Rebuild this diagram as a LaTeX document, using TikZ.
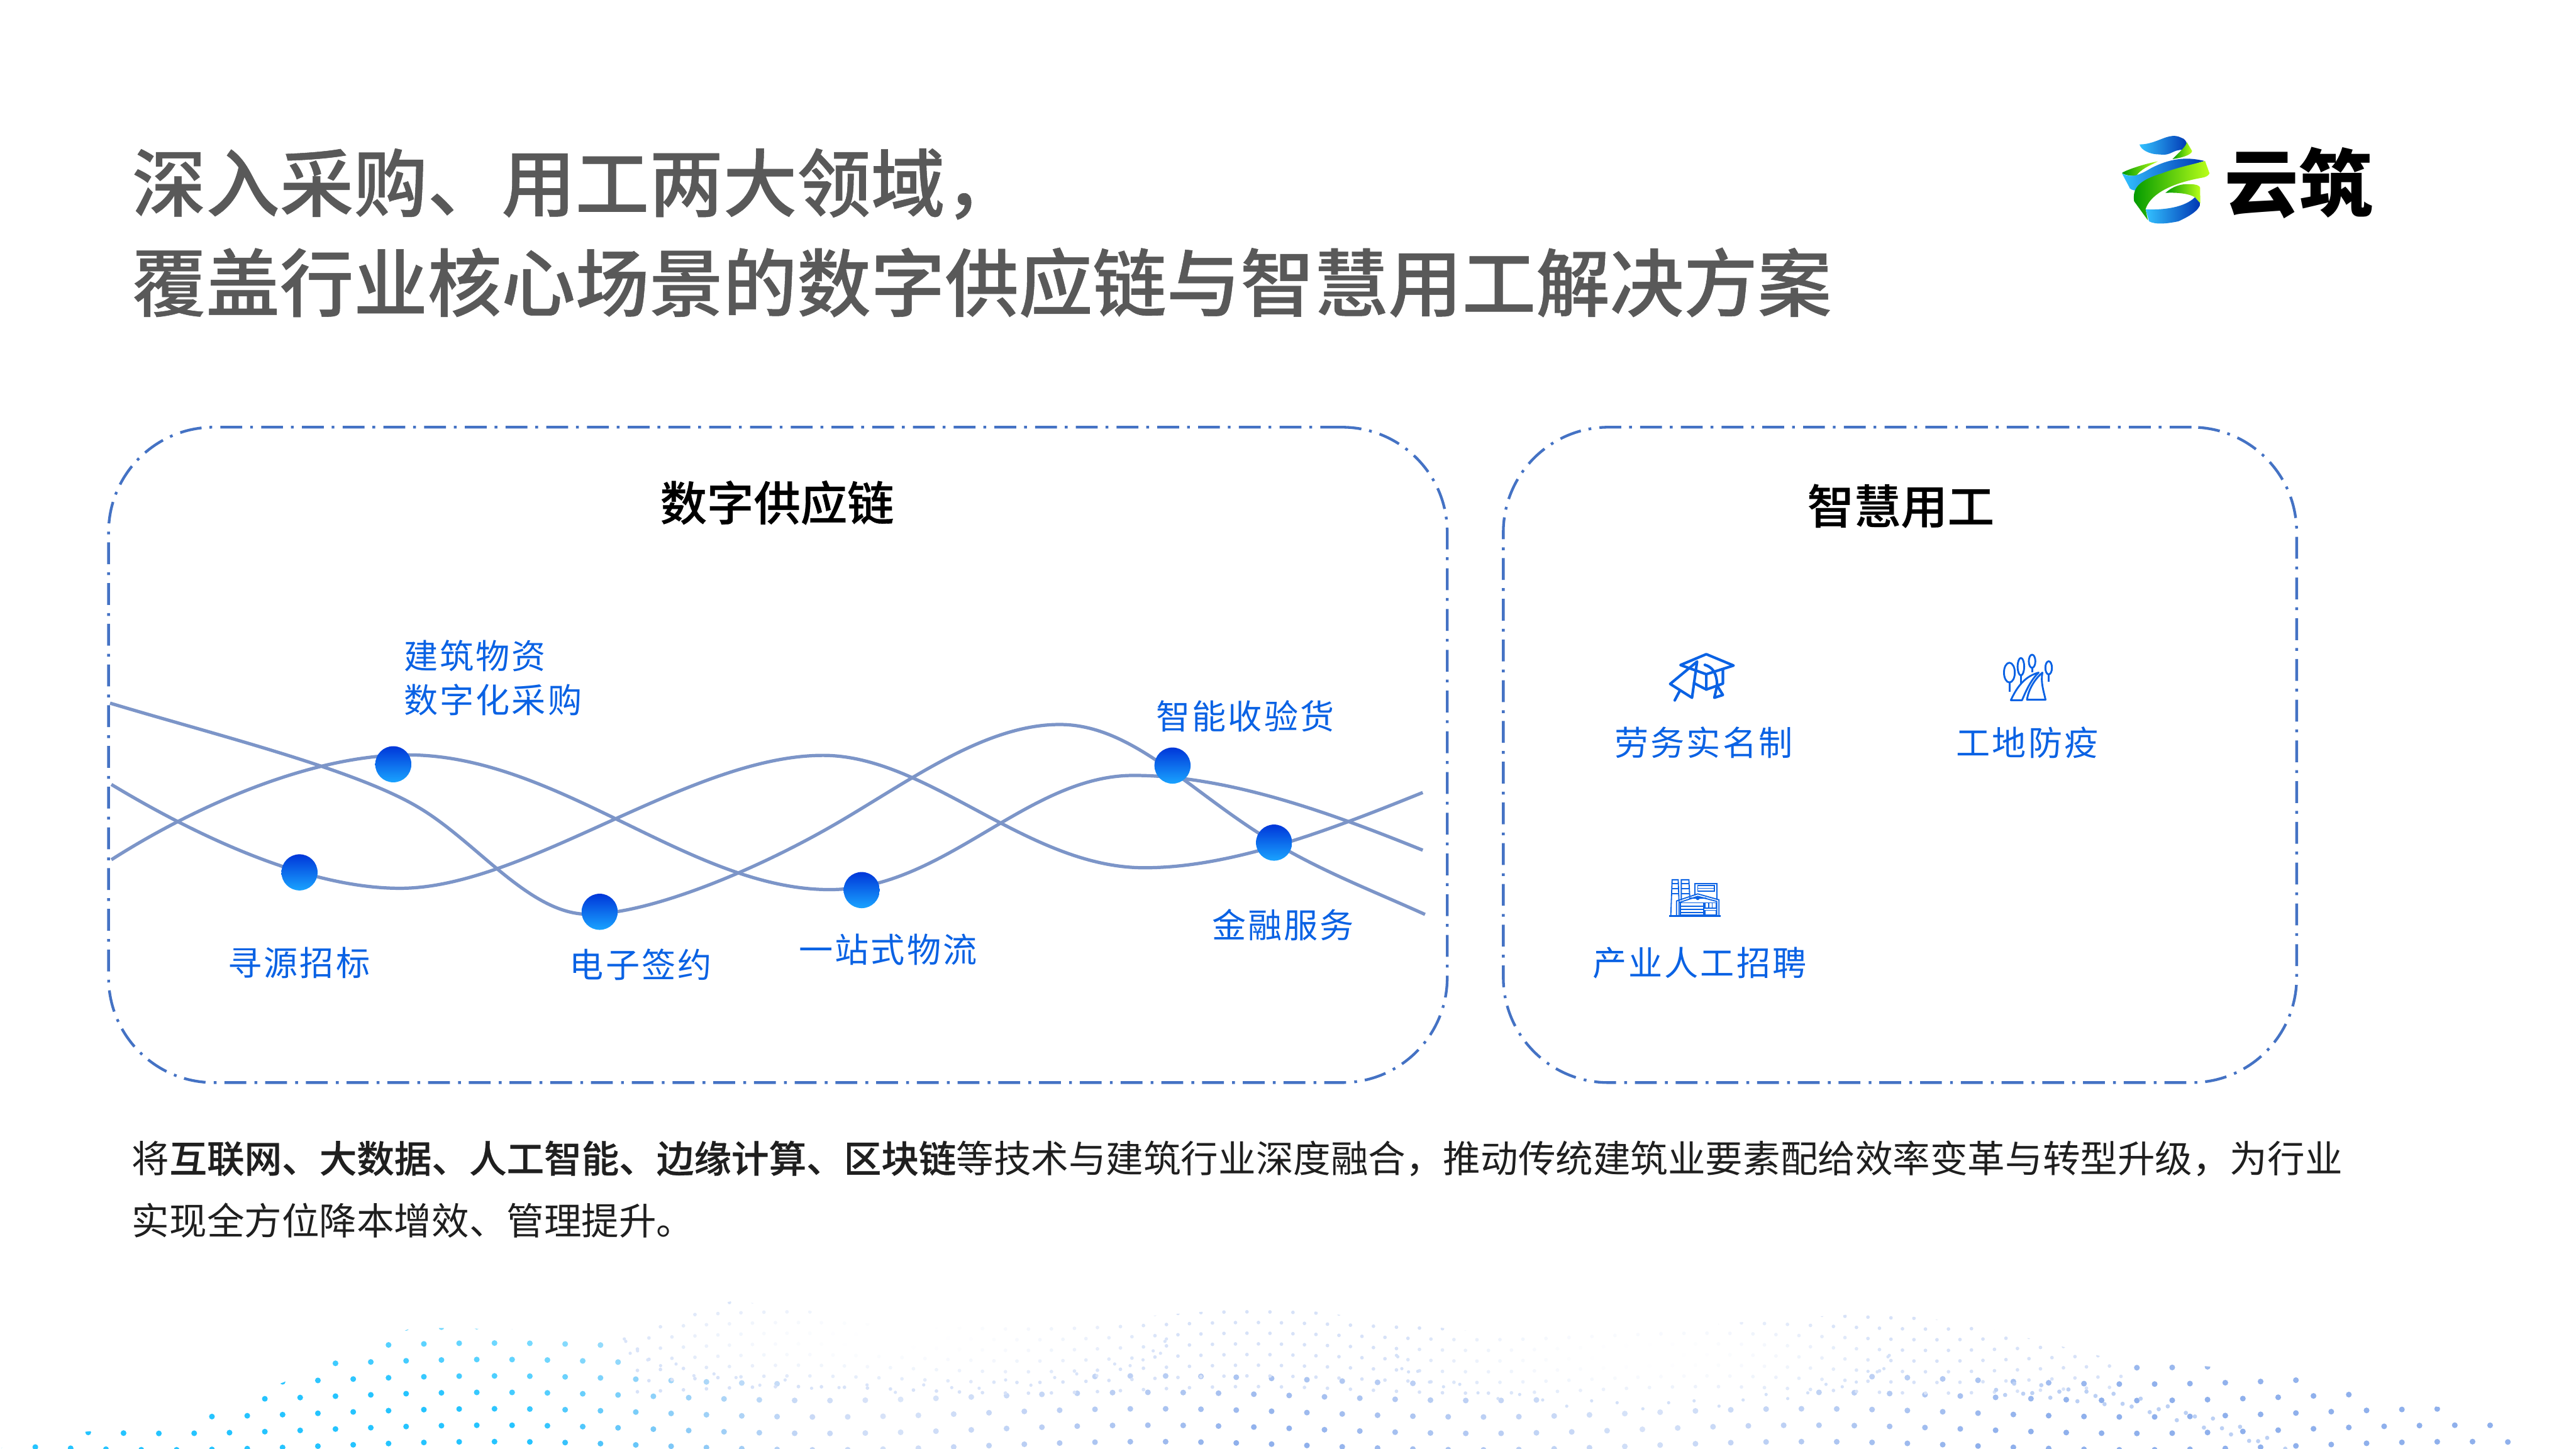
\documentclass[tikz,border=0pt]{standalone}
\usepackage{fontspec}
\setmainfont{Noto Sans CJK SC}[BoldFont={Noto Sans CJK SC Medium},BoldFeatures={FakeBold=.45}]
\newfontfamily\brandfont{Noto Sans CJK SC Black}
\newfontfamily\itemfont{Noto Sans CJK SC}[LetterSpace=5.7]
\definecolor{titlegray}{HTML}{595959}
\definecolor{panelblue}{HTML}{4472C4}
\definecolor{wavec}{HTML}{7C95C8}
\definecolor{labelblue}{HTML}{0A62E4}
\definecolor{dotleft}{HTML}{25C4FF}
\definecolor{dotright}{HTML}{8FB0EC}
\tikzset{
  panel/.style={draw=panelblue,line width=.033cm,rounded corners=1.28cm,inner sep=0,
    dash pattern=on .266cm off .1cm on .034cm off .096cm},
  headline/.style={anchor=west,inner sep=0,text=titlegray,font=\fontsize{25.6}{30}\selectfont\bfseries},
  paneltitle/.style={inner sep=0,font=\fontsize{16.2}{20}\selectfont\bfseries},
  itemlabel/.style={inner sep=0,text=labelblue,align=left,font=\itemfont\fontsize{11.8}{15.3}\selectfont},
  bodytext/.style={anchor=north west,inner sep=0,align=left,text=black!88,font=\fontsize{12.98}{21.6}\selectfont},
  wave/.style={draw=wavec,line width=.04cm,line join=round},
  dotmark/.style={circle,minimum size=.44cm,inner sep=0,shading=axis,shading angle=-45,
    bottom color=cyan!60!blue!90!white,middle color=labelblue,top color=blue!75!cyan!85!black},
  capline/.style={draw=labelblue,line width=.032cm,line join=round,line cap=round},
  treeline/.style={draw=labelblue,line width=.022cm,line join=round},
  plantline/.style={draw=labelblue,line width=.014cm},
  ribblue/.style={left color=cyan!70!blue!80!white,right color=blue!70!cyan!70!black},
  riblime/.style={left color=green!60!black,right color=yellow!70!green!90!white},
}
\begin{document}
\begin{tikzpicture}[x=.02cm,y=-.02cm]
\useasboundingbox (0,0) rectangle (1568,882);
\fill[white] (0,0) rectangle (1568,882);
\begin{scope}
\clip plot coordinates {(0,882) (9,876) (104,866) (134,857) (161,846) (186,836) (208,826) (231,815) (252,808) (350,810) (388,812) (411,802) (445,792) (480,795) (544,809) (640,806) (700,801) (776,795) (850,805) (927,814) (1000,810) (1080,803) (1145,799) (1200,806) (1281,826) (1347,832) (1400,838) (1450,850) (1525,864) (1530,882)} -- cycle;
\foreach \r in {0,...,8}{
  \foreach \c in {0,...,72}{
    \pgfmathsetmacro\px{\c*21.5+mod(\r,2)*10.7}
    \pgfmathsetmacro\py{880-\r*10+2.5*sin(\px*.9)}
    \pgfmathsetmacro\q{min(((\px-545)/165)^2+((\py-815)/30)^2,((\px-1000)/150)^2+((\py-825)/30)^2)}
    \pgfmathtruncatemacro\keep{and(\q>1,or(\py>835,or(\px<388,\px>1281)))}
    \ifnum\keep=1
      \pgfmathtruncatemacro\tt{100*max(0,min(1,(\px-320)/170))}
      \pgfmathtruncatemacro\aa{min(100,130*(.3+.7*min(1,min(abs(\px-545),abs(\px-1000))/300))*(.55+.45*(\py-810)/70))}
      \fill[dotright!\tt!dotleft!\aa!white] (\px,\py) circle (1.75);
    \fi
  }
}
\foreach \r in {0,...,8}{
  \foreach \c in {0,...,64}{
    \pgfmathsetmacro\px{388+\c*14+mod(\r,2)*7}
    \pgfmathsetmacro\py{794+\r*6.5+2*sin(\px*1.3)}
    \pgfmathsetmacro\q{min(((\px-545)/165)^2+((\py-815)/30)^2,((\px-1000)/150)^2+((\py-825)/30)^2)}
    \pgfmathtruncatemacro\aa{36*min(1,\q)}
    \fill[dotright!\aa!white] (\px,\py) circle (1.1);
  }
}
\foreach \a in {0,6,...,180}{
  \fill[dotright!34!white] ({545+165*cos(\a)},{815+30*sin(\a)+2.5*sin(\a*37)}) circle (1);
  \fill[dotright!38!white] ({1000+150*cos(\a)},{825+30*sin(\a)+2.5*sin(\a*41)}) circle (1);
}
\foreach \c in {0,...,36}{
  \fill[dotright!60!white] ({1215+\c*5.5},{846+.12*(\c*.55)^2+4*sin(\c*130)}) circle (1.3);
}
\end{scope}

\node[headline] (line1) at (80,112) {深入采购、用工两大领域，};
\node[headline] (line2) at (80,172) {覆盖行业核心场景的数字供应链与智慧用工解决方案};

\shade[ribblue] (1302.3,87.9) .. controls (1313,88) and (1320,80) .. (1327.4,83.7) .. controls (1332,85) and (1332,90) .. (1328.9,91.2) .. controls (1322,91) and (1322,95) .. (1314.5,94) .. controls (1308,94) and (1303,91) .. cycle;
\shade[riblime] (1331,86.4) -- (1334.3,91.9) .. controls (1334,94) and (1329,96) .. (1322.4,96.8) .. controls (1327,92) and (1331,89) .. cycle;
\shade[riblime] (1313.5,98.2) .. controls (1304,100) and (1293,104) .. (1291.6,105.3) .. controls (1294,107) and (1298,107) .. (1300.2,107.2) .. controls (1303,103) and (1308,101) .. cycle;
\shade[ribblue] (1291.6,105.5) .. controls (1298,109) and (1303,106) .. (1310,102) .. controls (1320,97) and (1330,95) .. (1341.8,98) .. controls (1325,103) and (1305,110) .. (1300.9,116) .. controls (1298,116) and (1296,115) .. (1295.9,113.6) -- cycle;
\shade[riblime] (1342.2,98) -- (1344.9,105.5) .. controls (1344.5,107) and (1342,108) .. (1340.3,108.2) .. controls (1330,110) and (1310,115) .. (1306,127.3) -- (1307.4,134.1) -- (1299,122.5) .. controls (1298,115) and (1301,110) .. (1316,105.5) .. controls (1325,102) and (1335,100) .. cycle;
\shade[riblime] (1318.1,117.4) .. controls (1323,113) and (1328,112) .. (1331.7,112.1) .. controls (1337,112) and (1339,113) .. (1339.2,114.3) -- (1339.3,123.8) -- (1336,120.1) .. controls (1333,118) and (1326,117) .. cycle;
\shade[ribblue] (1306,127.4) .. controls (1318,128) and (1330,126) .. (1336,120.1) -- (1339.3,123.8) .. controls (1339,128) and (1332,132) .. (1326,134.7) .. controls (1320,136) and (1312,137) .. (1308.1,134.7) -- cycle;
\node[inner sep=0,font=\brandfont\fontsize{25.6}{30}\selectfont] (brand) at (1399.3,111.5) {云筑};

\node[panel,minimum width=16.3cm,minimum height=7.98cm] (chain) at (473.5,459.5) {};
\node[panel,minimum width=9.66cm,minimum height=7.98cm] (labor) at (1156.5,459.5) {};
\node[paneltitle] (chaintitle) at (473,306) {数字供应链};
\node[paneltitle] (labortitle) at (1157,308) {智慧用工};

\draw[wave] (67,428) .. controls (130,447) and (215,468) .. (254,491)
  .. controls (290,512) and (322,556.5) .. (358,556.5)
  .. controls (395,556.5) and (460,530) .. (510.6,500.4)
  .. controls (555,474.4) and (600,441) .. (645,441)
  .. controls (690,441) and (725,483) .. (775.5,512.9)
  .. controls (805,530.5) and (835,542) .. (867.4,556.6);
\draw[wave] (67.8,477.5) .. controls (125,512) and (190,540.7) .. (243.5,540.7)
  .. controls (320,540.7) and (420,459.8) .. (501,459.8)
  .. controls (565,459.8) and (625,528.2) .. (696.5,528.2)
  .. controls (750,528.2) and (810,505) .. (866,482.4);
\draw[wave] (67.8,523.3) .. controls (120,490) and (190,459.5) .. (248,459.5)
  .. controls (340,459.5) and (420,541.5) .. (505,541.5)
  .. controls (575,541.5) and (625,472) .. (690,472)
  .. controls (750,472) and (815,497) .. (866,517.5);

\node[dotmark] (sourcing) at (182.3,531) {};
\node[dotmark] (material) at (239.4,465.2) {};
\node[dotmark] (esign) at (365,555) {};
\node[dotmark] (logistics) at (524.5,541.8) {};
\node[dotmark] (receiving) at (713.7,466) {};
\node[dotmark] (finance) at (775.5,512.9) {};

\node[itemlabel,anchor=west] (materiallabel) at (245.5,412.5) {建筑物资\\数字化采购};
\node[itemlabel] (sourcinglabel) at (182,586) {寻源招标};
\node[itemlabel] (esignlabel) at (390,587) {电子签约};
\node[itemlabel] (logisticslabel) at (540.5,578) {一站式物流};
\node[itemlabel] (receivinglabel) at (758,436) {智能收验货};
\node[itemlabel] (financelabel) at (781,563) {金融服务};
\node[itemlabel] (realname) at (1037,452) {劳务实名制};
\node[itemlabel] (epidemic) at (1234,452) {工地防疫};
\node[itemlabel] (hiring) at (1034.5,586) {产业人工招聘};

\draw[capline] (1038.6,398.2) -- (1055.2,405.1) -- (1038.6,410.4) -- (1022.9,404.8) -- cycle;
\draw[capline] (1038.6,410.4) -- (1038.6,419.7) -- (1031.1,415.8);
\draw[capline] (1038.6,419.7) -- (1048.7,416.1) -- (1048.7,407.7);
\draw[capline] (1033,402.7) -- (1016.6,416.3) -- (1029.9,424.7) -- cycle;
\draw[capline] (1022.4,420.6) -- (1019.4,426.3);
\draw[capline] (1037.7,404.7) .. controls (1042,406) and (1045,409) .. (1045.2,417.3) -- (1048.7,423) -- (1043.5,424.7) -- (1045.2,417.3);

\draw[treeline] (1223.1,409.4) ellipse [x radius=3.3,y radius=6];
\draw[treeline] (1230.1,405.8) ellipse [x radius=2,y radius=5.3];
\draw[treeline] (1236.9,402.5) ellipse [x radius=2,y radius=4];
\draw[treeline] (1247,406.5) ellipse [x radius=2,y radius=4];
\draw[treeline] (1223.1,415.1) -- (1223.1,421.1) (1230.1,410.8) -- (1230.1,416.1) (1236.9,406.5) -- (1236.9,409.4) (1247,410.8) -- (1247,415.1);
\draw[treeline] (1224,426.2) .. controls (1229,415) and (1235,411) .. (1240.9,409.4) .. controls (1236,414) and (1233,421) .. (1230.8,426.2) -- cycle;
\draw[treeline] (1233.8,425.9) .. controls (1235,418) and (1240,412) .. (1243.2,409.4) .. controls (1242,415) and (1244,421) .. (1245.1,425.9) -- cycle;

\draw[plantline,line width=.024cm] (1016,557.4) -- (1047.5,557.4);
\draw[plantline] (1017,557) -- (1017.8,535.5) -- (1021.5,535.5) -- (1022,549);
\draw[plantline] (1023.4,548) -- (1023.4,535.5) -- (1028,535.5) -- (1028.5,545.5);
\foreach \y in {538,541,544}{
  \draw[plantline] (1017.6,\y) -- (1021.6,\y) (1023.4,\y) -- (1028.2,\y);
}
\draw[plantline] (1031.8,545) -- (1031.8,537.7) -- (1045.2,537.7) -- (1045.2,547.7);
\draw[plantline] (1033.4,539) rectangle (1043.5,542.4) (1033.4,540.7) -- (1043.5,540.7);
\draw[plantline] (1020.5,557) -- (1020.5,548.4) -- (1033.4,544.1) -- (1046.3,547.7) -- (1046.3,557);
\draw[plantline] (1022,557) -- (1022,549.4) -- (1033.4,545.6) -- (1045,548.7) -- (1045,557);
\draw[plantline] (1033.4,546.7) circle (.8) (1028.2,546.7) -- (1038.6,546.7);
\draw[plantline] (1023,549.5) rectangle (1036.9,557);
\foreach \y in {551.5,553.5,555.5}{
  \draw[plantline] (1023,\y) -- (1036.9,\y);
}
\draw[plantline] (1037.8,549.5) rectangle (1044.5,552.9) (1037.8,554.1) rectangle (1044.5,557);
\foreach \x in {1040,1042.2}{
  \draw[plantline] (\x,549.5) -- (\x,552.9);
}

\node[bodytext] (body) at (80,694) {将\textbf{互联网、大数据、人工智能、边缘计算、区块链}等技术与建筑行业深度融合，推动传统建筑业要素配给效率变革与转型升级，为行业\\实现全方位降本增效、管理提升。};
\end{tikzpicture}
\end{document}
